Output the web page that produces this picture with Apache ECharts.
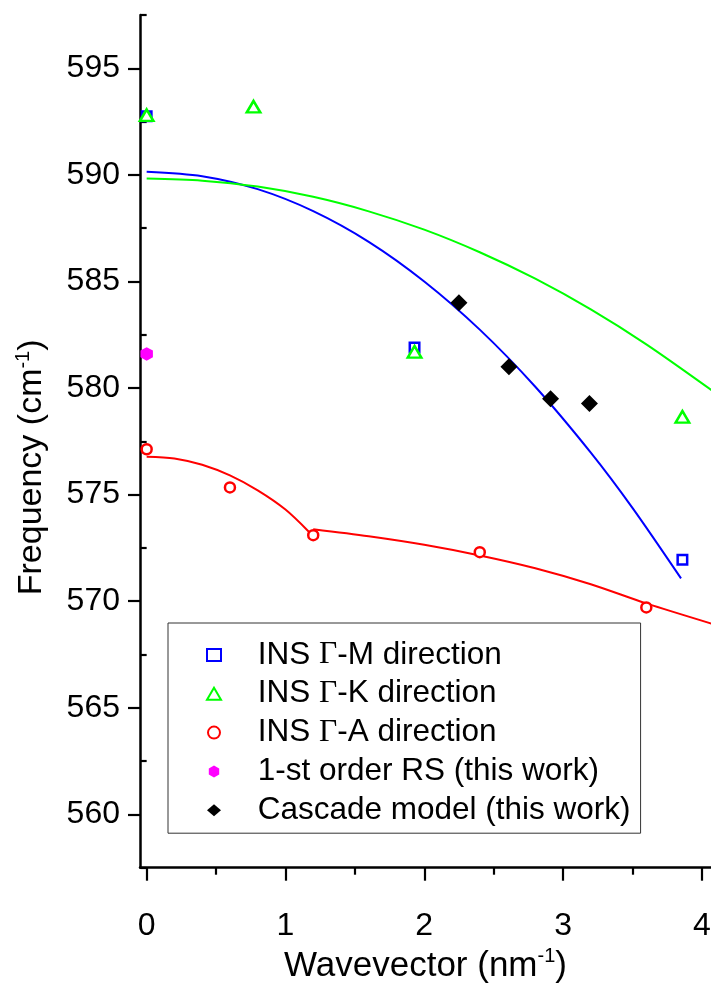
<!DOCTYPE html>
<html>
<head>
<meta charset="utf-8">
<script src="https://cdn.jsdelivr.net/npm/echarts@6/dist/echarts.min.js"></script>
<style>html,body{margin:0;padding:0;background:#fff;}#c{width:711px;height:983px;}</style>
</head>
<body>
<div id="c"></div>
<script>
// ---- data ----
var gmX = [0, 1.93, 3.86];
var gmY = [592.75, 581.9, 571.95];
var gkX = [0, 0.77, 1.93, 3.86];
var gkY = [592.8, 593.2, 581.7, 578.65];
var gaX = [0, 0.60, 1.20, 2.40, 3.60];
var gaY = [577.13, 575.34, 573.1, 572.3, 569.71];
var rsX = [0];
var rsY = [581.6];
var cascX = [2.25, 2.61, 2.91, 3.19];
var cascY = [584.0, 581.0, 579.5, 579.27];
// fitted curves
var fitMX = [0, 0.4, 0.8, 1.2, 1.6, 2.0, 2.4, 2.8, 3.2, 3.5, 3.85];
var fitMY = [590.15, 589.94, 589.33, 588.3, 586.86, 585.0, 582.74, 580.06, 576.97, 574.38, 571.07];
var fitKX = [0, 0.4, 0.8, 1.2, 1.6, 2.0, 2.4, 2.8, 3.2, 3.6, 4.07];
var fitKY = [589.83, 589.73, 589.45, 588.97, 588.29, 587.43, 586.37, 585.13, 583.69, 582.05, 579.9];
var fitA1X = [0, 0.2, 0.4, 0.6, 0.8, 1.0, 1.17];
var fitA1Y = [576.78, 576.7, 576.4, 575.9, 575.2, 574.3, 573.25];
var fitA2X = [1.2, 1.6, 2.0, 2.4, 2.8, 3.2, 3.6, 4.07];
var fitA2Y = [573.38, 573.05, 572.65, 572.15, 571.55, 570.8, 569.9, 568.95];
// axes
var xMajor = [0, 1, 2, 3, 4];
var xMinor = [0.5, 1.5, 2.5, 3.5];
var yMajor = [560, 565, 570, 575, 580, 585, 590, 595];
var yMinor = [557.5, 562.5, 567.5, 572.5, 577.5, 582.5, 587.5, 592.5, 597.5];
var legendNames = ['INS \u0393-M direction', 'INS \u0393-K direction', 'INS \u0393-A direction', '1-st order RS (this work)', 'Cascade model (this work)'];

function pairs(xs, ys) { return xs.map(function (x, i) { return [x, ys[i]]; }); }

var FF = 'Liberation Sans, Arial, sans-serif';
var chart = echarts.init(document.getElementById('c'), null, {renderer: 'canvas'});
var xmin = -0.048, xmax = 4.066, ymin = 557.5, ymax = 597.5;

function nameRich(sz) {
  return {
    a: {fontSize: sz, fontFamily: FF, color: '#000', lineHeight: sz + 4},
    s: {fontSize: 20, fontFamily: FF, color: '#000', lineHeight: sz + 4, verticalAlign: 'top', padding: [0, 0, 14, 0]}
  };
}

var option = {
  backgroundColor: '#fff',
  animation: false,
  grid: {left: 140, right: 0, top: 15, bottom: 115.3, containLabel: false, outerBoundsMode: 'none'},
  xAxis: [{
    type: 'value', min: xmin, max: xmax, position: 'bottom',
    axisLine: {show: true, onZero: false, lineStyle: {color: '#000', width: 2.5}},
    axisTick: {show: true, inside: false, length: 13, lineStyle: {color: '#000', width: 2.2}, customValues: xMajor},
    axisLabel: {show: true, customValues: xMajor, fontSize: 32, fontFamily: FF, color: '#000', margin: 42},
    splitLine: {show: false},
    name: '{a|Wavevector (nm}{s|-1}{a|)}', nameLocation: 'middle', nameGap: 76,
    nameTextStyle: {rich: nameRich(35)}
  }, {
    type: 'value', min: xmin, max: xmax, position: 'bottom',
    axisLine: {show: false},
    axisTick: {show: true, inside: false, length: 7, lineStyle: {color: '#000', width: 2.2}, customValues: xMinor},
    axisLabel: {show: false}, splitLine: {show: false}
  }],
  yAxis: [{
    type: 'value', min: ymin, max: ymax, position: 'left',
    axisLine: {show: true, onZero: false, lineStyle: {color: '#000', width: 2.5}},
    axisTick: {show: true, inside: false, length: 12, lineStyle: {color: '#000', width: 2.2}, customValues: yMajor},
    axisLabel: {show: true, customValues: yMajor, fontSize: 32, fontFamily: FF, color: '#000', margin: 20},
    splitLine: {show: false},
    name: '{a|Frequency (cm}{s|-1}{a|)}', nameLocation: 'middle', nameGap: 89,
    nameTextStyle: {rich: nameRich(34), padding: [0, 52, 0, 0]}
  }, {
    type: 'value', min: ymin, max: ymax, position: 'left',
    axisLine: {show: false},
    axisTick: {show: true, inside: false, length: 6, lineStyle: {color: '#000', width: 2.2}, customValues: yMinor},
    axisLabel: {show: false}, splitLine: {show: false}
  }],
  legend: {
    orient: 'vertical', left: 168, top: 623,
    data: legendNames,
    backgroundColor: '#fff',
    borderColor: '#333', borderWidth: 1, borderRadius: 0,
    padding: [16, 10, 7, 38],
    itemWidth: 14, itemHeight: 12, itemGap: 6.8,
    selectedMode: false,
    textStyle: {fontSize: 31.5, fontFamily: FF, color: '#000', lineHeight: 32, padding: [0, 0, 0, 31.7],
      rich: {
        t: {fontSize: 31.5, fontFamily: FF, color: '#000', lineHeight: 32},
        g: {fontSize: 31.5, fontFamily: 'Liberation Serif, Times New Roman, serif', color: '#000', lineHeight: 32}
      }},
    formatter: function (name) {
      return '{t|' + name.replace('\u0393', '}{g|\u0393}{t|') + '}';
    }
  },
  series: [
    {type: 'line', name: 'fitM', data: pairs(fitMX, fitMY), smooth: 0.3, showSymbol: false, symbol: 'none',
      lineStyle: {color: '#0000ff', width: 2}, z: 1},
    {type: 'line', name: 'fitK', data: pairs(fitKX, fitKY), smooth: 0.3, showSymbol: false, symbol: 'none',
      lineStyle: {color: '#00ff00', width: 2}, z: 1},
    {type: 'line', name: 'fitA1', data: pairs(fitA1X, fitA1Y), smooth: 0.3, showSymbol: false, symbol: 'none',
      lineStyle: {color: '#ff0000', width: 2}, z: 1},
    {type: 'line', name: 'fitA2', data: pairs(fitA2X, fitA2Y), smooth: 0.3, showSymbol: false, symbol: 'none',
      lineStyle: {color: '#ff0000', width: 2}, z: 1},
    {type: 'scatter', name: legendNames[0], data: pairs(gmX, gmY), symbol: 'rect', symbolSize: 9.5,
      itemStyle: {color: '#fff', borderColor: '#0000ff', borderWidth: 2.5, opacity: 1}, z: 3},
    {type: 'scatter', name: legendNames[1], data: pairs(gkX, gkY), symbol: 'triangle', symbolSize: [13.5, 11.5],
      itemStyle: {color: '#fff', borderColor: '#00ff00', borderWidth: 2.5, opacity: 1}, z: 4},
    {type: 'scatter', name: legendNames[2], data: pairs(gaX, gaY), symbol: 'circle', symbolSize: 10,
      itemStyle: {color: '#fff', borderColor: '#ff0000', borderWidth: 2.5, opacity: 1}, z: 4},
    {type: 'scatter', name: legendNames[3], data: pairs(rsX, rsY),
      symbol: 'path://M0,-1 L0.866,-0.5 L0.866,0.5 L0,1 L-0.866,0.5 L-0.866,-0.5 Z', symbolSize: [12.5, 13.5],
      itemStyle: {color: '#ff00ff', opacity: 1}, z: 4},
    {type: 'scatter', name: legendNames[4], data: pairs(cascX, cascY), symbol: 'diamond', symbolSize: 17,
      itemStyle: {color: '#000', opacity: 1}, z: 4}
  ]
};
chart.setOption(option);
</script>
</body>
</html>
